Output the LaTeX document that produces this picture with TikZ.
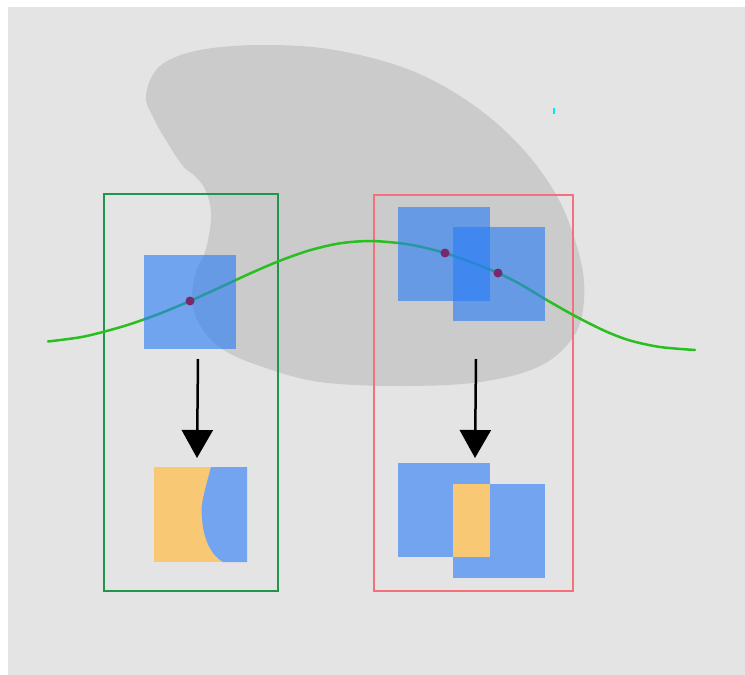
\documentclass[tikz,border=0pt]{standalone}
\usetikzlibrary{arrows.meta}
\definecolor{bgray}{RGB}{228,228,228}
\definecolor{blobgray}{RGB}{203,203,203}
\definecolor{tileblue}{RGB}{41,125,246}
\definecolor{solidblue}{RGB}{114,164,239}
\definecolor{tileorange}{RGB}{248,200,117}
\definecolor{framegreen}{RGB}{32,150,76}
\definecolor{framered}{RGB}{245,112,122}
\definecolor{curvegreen}{RGB}{40,192,30}
\definecolor{dotpurple}{RGB}{122,40,110}
\definecolor{speck}{RGB}{0,235,235}
\tikzset{
  tile/.style={rectangle, inner sep=0pt, minimum width=92pt, minimum height=94pt, fill=tileblue, fill opacity=0.62},
  solidtile/.style={rectangle, inner sep=0pt, fill=solidblue},
  frame/.style={line width=2.4pt},
  sample/.style={circle, inner sep=0pt, minimum size=9pt, fill=dotpurple},
  maparrow/.style={line width=2.5pt, -{Triangle[width=31pt,length=28pt]}},
}
\begin{document}
\begin{tikzpicture}[x=1pt,y=-1pt]
\useasboundingbox (0,0) rectangle (745,675);
% canvas
\fill[white] (0,0) rectangle (745,675);
\fill[bgray] (8,7) rectangle (745,675);
% shaded region
\fill[blobgray] plot[smooth cycle, tension=0.6] coordinates {
  (146,95) (160,66) (200,50) (265,45) (335,50) (410,70) (472,104)
  (522,148) (559,200) (580,258) (584,300) (574,336) (540,366)
  (480,382) (400,386) (320,382) (263,367) (222,349) (200,325)
  (192,300) (196,272) (204,255) (209,235) (211,212) (206,191)
  (196,177) (183,166) (167,142) (153,117)};
% stray mark
\draw[speck, line width=2pt] (554,107.5) -- (554,113.5);
% frames
\node[draw=framegreen, frame, rectangle, inner sep=0pt, minimum width=174pt, minimum height=397pt] (gframe) at (191,392.5) {};
\node[draw=framered, frame, rectangle, inner sep=0pt, minimum width=199pt, minimum height=396pt] (rframe) at (473.5,393) {};
% curve
\draw[curvegreen, line width=2.5pt, line cap=round] plot[smooth, tension=0.5] coordinates {
  (48,341.5) (80,337.3) (104,331.7) (130,324.2) (160,313.5) (190,301)
  (220,287.4) (250,273.5) (280,260.7) (310,250.2) (340,243.3) (370,241)
  (400,243.2) (420,246.6) (445,253) (470,261.8) (498,273) (520,284)
  (545,299) (575,316) (605,331) (630,340.5) (660,347) (695,350)};
% upper tiles
\node[tile] (ta) at (190,302) {};
\node[tile] (tb) at (444,253.5) {};
\node[tile] (tc) at (499,273.5) {};
% sample points
\node[sample] (pa) at (190,301) {};
\node[sample] (pb) at (445,253) {};
\node[sample] (pc) at (498,273) {};
% lower left tile: split orange / blue
\node[rectangle, inner sep=0pt, minimum width=93pt, minimum height=95pt, fill=tileorange] (ba) at (200.5,514.5) {};
\fill[solidblue] (211,467) .. controls (205,490) and (200,505) .. (202,517)
  .. controls (203,540) and (212,556) .. (223,562) -- (247,562) -- (247,467) -- cycle;
% lower right tiles with orange overlap
\node[solidtile, minimum width=92pt, minimum height=94pt] (bb) at (444,510) {};
\node[solidtile, minimum width=92pt, minimum height=94pt] (bc) at (499,531) {};
\node[rectangle, inner sep=0pt, fill=tileorange, minimum width=37pt, minimum height=73pt] (bo) at (471.5,520.5) {};
% arrows
\coordinate (la) at (198,359);
\coordinate (lb) at (197,458);
\coordinate (ra) at (476,359);
\coordinate (rb) at (475,458);
\draw[maparrow] (la) -- (lb);
\draw[maparrow] (ra) -- (rb);
\end{tikzpicture}
\end{document}
